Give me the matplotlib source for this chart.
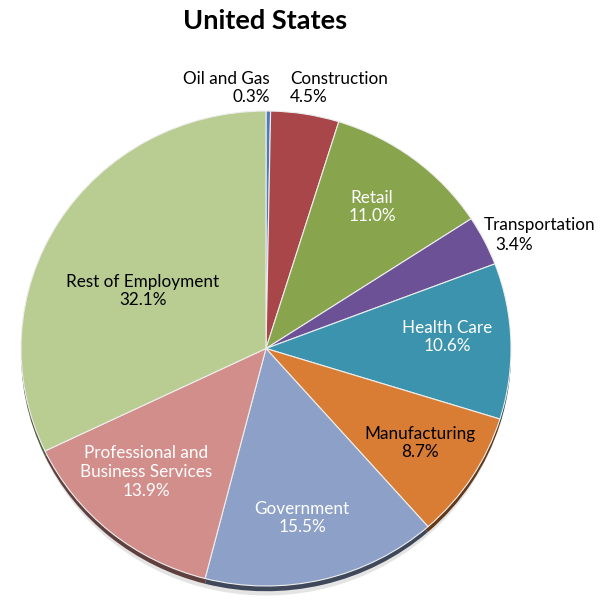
import numpy as np
import matplotlib
matplotlib.use('Agg')
import matplotlib.pyplot as plt
from matplotlib.colors import to_rgb

plt.rcParams['font.family'] = ['Lato', 'DejaVu Sans']

sectors = ['Oil and Gas', 'Construction', 'Retail', 'Transportation', 'Health Care',
           'Manufacturing', 'Government', 'Professional and\nBusiness Services',
           'Rest of Employment']
shares = [0.3, 4.5, 11.0, 3.4, 10.6, 8.7, 15.5, 13.9, 32.1]
colors = ['#4a7ebb', '#a9464a', '#88a44c', '#6c5196', '#3b93ad',
          '#d97d35', '#8da1c8', '#d28e8b', '#b9cd93']

# label anchor in pixels (x, y), alignment, text colour
label_pos = [(270, 88, 'right', 'black'), (290, 88, 'left', 'black'),
             (372, 207, 'center', 'white'), (484, 235, 'left', 'black'),
             (447, 337, 'center', 'white'), (420, 443, 'center', 'black'),
             (302, 518, 'center', 'white'), (146, 472, 'center', 'white'),
             (143, 291, 'center', 'black')]

W, H = 608, 603
fs = 12.3
fig = plt.figure(figsize=(W / 100, H / 100), dpi=100)
# axes box = bounding box of the (slightly squashed) pie
x0, x1, y0, y1 = 21, 511, 111, 586
ax = fig.add_axes([x0 / W, 1 - y1 / H, (x1 - x0) / W, (y1 - y0) / H])

# soft shadow + dark rim under the pie
ax.pie([1], colors=['#e4e4e4'], radius=0.99, center=(0.0, -0.05),
       startangle=90, frame=False)
dark = [tuple(c * 0.45 for c in to_rgb(col)) for col in colors]
ax.pie(shares, colors=dark, radius=1.0, center=(0, -0.022), startangle=90,
       counterclock=False, frame=False)
ax.pie(shares, colors=colors, radius=1.0, startangle=90, counterclock=False,
       frame=False, wedgeprops=dict(edgecolor='#eeeeee', linewidth=0.8))
ax.set_xlim(-1, 1)
ax.set_ylim(-1, 1)
ax.set_aspect('auto')
ax.axis('off')

for name, val, (px, py, ha, tc) in zip(sectors, shares, label_pos):
    if name == 'Transportation':
        # second line is indented in the original
        fig.text(px / W, 1 - (py - 10) / H, name, ha='left', va='center',
                 fontsize=fs, color=tc)
        fig.text((px + 11) / W, 1 - (py + 10) / H, '%.1f%%' % val, ha='left',
                 va='center', fontsize=fs, color=tc)
        continue
    fig.text(px / W, 1 - py / H, '%s\n%.1f%%' % (name, val), ha=ha, va='center',
             multialignment=ha, fontsize=fs, color=tc, linespacing=1.2)

fig.text(265 / W, 1 - 21 / H, 'United States', ha='center', va='center',
         fontsize=19.5, fontweight='bold')

fig.savefig('out.png', dpi=100)
